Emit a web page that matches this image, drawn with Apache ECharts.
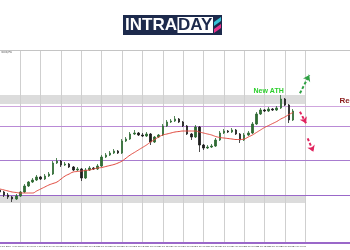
<!DOCTYPE html>
<html><head><meta charset="utf-8">
<script src="https://cdn.jsdelivr.net/npm/echarts@6/dist/echarts.min.js"></script>
<style>html,body{margin:0;padding:0;background:#fff}#c{width:350px;height:250px}</style>
</head><body><div id="c"></div>
<script>
const dateLabels = ["8 Jul 2024","8 Jul 12:00","9 Jul 00:00","9 Jul 12:00","10 Jul 00:00","10 Jul 12:00","11 Jul 00:00","11 Jul 12:00","12 Jul 00:00","12 Jul 12:00","15 Jul 00:00","15 Jul 12:00","16 Jul 00:00","16 Jul 12:00","17 Jul 00:00","17 Jul 12:00","18 Jul 00:00","18 Jul 12:00","19 Jul 00:00","19 Jul 12:00","22 Jul 00:00","22 Jul 12:00","23 Jul 00:00","23 Jul 12:00","24 Jul 00:00"];
const opens  = [2353,2351,2348,2346,2344,2347,2351,2357,2361,2363,2366,2364,2367,2369,2380,2382,2378,2379,2376,2373,2374,2365,2373,2375,2374,2377,2386,2388,2390,2392,2390,2402,2404,2409,2410,2408,2407,2409,2401,2406,2408,2417,2421,2422,2424,2421,2417,2409,2406,2416,2398,2395,2396,2397,2403,2410,2412,2411,2413,2409,2403,2408,2410,2419,2429,2433,2432,2434,2433,2435,2444,2438,2423];
const closes = [2351,2348,2346,2344,2347,2351,2357,2361,2363,2366,2364,2367,2369,2380,2382,2378,2379,2376,2373,2374,2365,2373,2375,2374,2377,2386,2388,2390,2392,2390,2402,2404,2409,2410,2408,2407,2409,2401,2406,2408,2417,2421,2422,2424,2421,2417,2409,2406,2416,2398,2395,2396,2397,2403,2410,2412,2411,2413,2409,2403,2408,2410,2419,2429,2433,2432,2434,2433,2435,2444,2438,2423,2432];
const highs  = [2355,2352,2350,2347,2349,2352,2359,2362,2365,2368,2367,2369,2371,2382,2385,2383,2381,2380,2377,2376,2375,2375,2377,2376,2379,2388,2390,2392,2394,2393,2404,2406,2411,2413,2411,2410,2411,2410,2407,2409,2419,2423,2424,2427,2425,2422,2418,2410,2418,2417,2399,2398,2399,2405,2412,2414,2413,2415,2414,2410,2410,2412,2421,2431,2435,2434,2436,2435,2437,2448,2445,2439,2434];
const lows   = [2349,2346,2344,2341,2343,2346,2350,2356,2360,2362,2363,2363,2366,2368,2379,2376,2377,2375,2372,2372,2362,2364,2372,2373,2373,2376,2385,2387,2389,2389,2389,2401,2403,2408,2407,2406,2406,2398,2400,2405,2407,2416,2420,2421,2420,2416,2408,2403,2405,2391,2393,2394,2395,2396,2402,2409,2410,2410,2408,2400,2402,2407,2409,2418,2428,2431,2431,2432,2432,2434,2437,2420,2422];
const maValues = [2354,2353,2352,2351,2350.5,2350,2350,2350,2350,2352,2354,2356,2358,2359.5,2361,2364,2367,2369,2371,2371.5,2372,2372.5,2373,2374,2375,2375.5,2376.5,2377.5,2378.5,2380,2382,2385,2388,2390.5,2393,2395.5,2398,2401,2403.5,2406,2408,2409,2410,2411,2411.5,2412,2412,2412,2412,2411,2410,2409,2408,2406.5,2405.5,2405,2404.5,2404,2403.5,2403.5,2404,2406,2408,2410.5,2413,2415.5,2417.5,2419.5,2421.5,2424,2426,2428.5,2430.5];
const gridTicks = [5,10,15,20,25,30,35,40,45,50,55,60,65,70,75];
const resistanceZone = [2439, 2448];
const supportZone = [2340, 2347.5];
const levels = [2437, 2417, 2383, 2348, 2300.6];
const levelColors = ['#cfa6de','#b98ad6','#a87ccf','#9a68c9','#9a68c9'];
const zoneEnd = 75;
const bullArrow = [[73.7, 2449.7],[76.0, 2468]];
const bearArrow1 = [[73.7, 2431.3],[75.2, 2419.7]];
const bearArrow2 = [[75.6, 2404.7],[77.0, 2391.3]];
const athLabel = {text:'New ATH', at:[66.0, 2452.2]};
const resLabel = {text:'Resistance', at:[83.4, 2442.5]};

const chart = echarts.init(document.getElementById('c'), null, {renderer:'canvas'});
const candleData = closes.map((c,i)=>[i, opens[i], c, lows[i], highs[i]]);
const maData = maValues.map((v,i)=>[i, v]);

const option = {
  animation:false,
  backgroundColor:'#fff',
  grid:{left:0,right:0,top:50,bottom:7,containLabel:false,outerBoundsMode:'none'},
  xAxis:{type:'value',min:0,max:86,interval:3,
    axisLine:{show:true,onZero:false,lineStyle:{color:'#9a68c9',width:1.2}},
    axisTick:{show:false},splitLine:{show:false},
    axisLabel:{show:true,fontSize:2.4,color:'#444',margin:2,align:'left',fontFamily:'Liberation Sans',
      formatter:v=>{const k=Math.round(v/3);return (Math.abs(v-k*3)<1e-6&&dateLabels[k])?dateLabels[k]:'';}}},
  yAxis:{type:'value',min:2300,max:2493,show:false,splitLine:{show:false}},
  graphic:[
    {type:'rect',shape:{x:123,y:15,width:99,height:20},style:{fill:'#1d2a4c'}},
    {type:'text',style:{text:'INTRA',x:125,y:25.5,fill:'#fff',fontSize:17,fontWeight:'bold',fontFamily:'Liberation Sans',verticalAlign:'middle'}},
    {type:'rect',shape:{x:177.5,y:17,width:35.5,height:16},style:{fill:'#fff'}},
    {type:'text',style:{text:'DAY',x:195.2,y:25.5,fill:'#1d2a4c',fontSize:17,fontWeight:'bold',fontFamily:'Liberation Sans',align:'center',verticalAlign:'middle'}},
    {type:'polygon',shape:{points:[[214,22],[221,17],[221,21],[214,26]]},style:{fill:'#35c2d6'}},
    {type:'polygon',shape:{points:[[214,29],[221,24],[221,28],[214,33]]},style:{fill:'#e8328c'}},
    {type:'text',style:{text:'Gold,H4',x:1,y:52,fill:'#666',fontSize:3,fontFamily:'Liberation Sans',verticalAlign:'middle'}}
  ],
  series:[
    {type:'line',data:[],z:1,silent:true,
      markLine:{silent:true,symbol:['none','none'],z:1,label:{show:false},
        lineStyle:{color:'#cfcfcf',width:1,type:'solid'},
        data:gridTicks.map(t=>({xAxis:t})).concat([{yAxis:2492.5,lineStyle:{color:'#c4c4c4'}}])},
      markArea:{silent:true,itemStyle:{color:'#dcdcdc'},
        data:[[{xAxis:0,yAxis:resistanceZone[0]},{xAxis:zoneEnd,yAxis:resistanceZone[1]}],
              [{xAxis:0,yAxis:supportZone[0]},{xAxis:zoneEnd,yAxis:supportZone[1]}]]}},
    {type:'line',data:[],z:2,silent:true,
      markLine:{silent:true,symbol:['none','none'],z:2,label:{show:false},
        data:levels.map((v,i)=>({yAxis:v,lineStyle:{color:levelColors[i],width:1.2,type:'solid'}}))}},
    {type:'candlestick',data:candleData,z:3,barWidth:2,
      itemStyle:{color:'#2f6b34',color0:'#1f1f1f',borderColor:'#2f6b34',borderColor0:'#1f1f1f',borderWidth:0.8}},
    {type:'line',data:maData,z:4,smooth:true,showSymbol:false,silent:true,
      lineStyle:{color:'#e04a3f',width:1}},
    {type:'line',data:[],z:6,silent:true,
      markLine:{silent:true,symbol:['none','arrow'],symbolSize:6,label:{show:false},
        data:[
          [{coord:bullArrow[0],lineStyle:{color:'#2ea043',width:2,type:[3,2]}},{coord:bullArrow[1]}],
          [{coord:bearArrow1[0],lineStyle:{color:'#e0245e',width:2,type:[3,2]}},{coord:bearArrow1[1]}],
          [{coord:bearArrow2[0],lineStyle:{color:'#e0245e',width:2,type:[3,2]}},{coord:bearArrow2[1]}]
        ]},
      markPoint:{silent:true,symbol:'circle',symbolSize:1,itemStyle:{color:'rgba(0,0,0,0)'},
        data:[
          {coord:athLabel.at,label:{show:true,position:'inside',formatter:athLabel.text,color:'#2bcf2b',fontSize:7,fontWeight:'bold',fontFamily:'Liberation Sans'}},
          {coord:resLabel.at,label:{show:true,position:'inside',align:'left',formatter:resLabel.text,color:'#8b1c1c',fontSize:8,fontWeight:'bold',fontFamily:'Liberation Sans'}}
        ]}}
  ]
};
chart.setOption(option);
</script></body></html>
